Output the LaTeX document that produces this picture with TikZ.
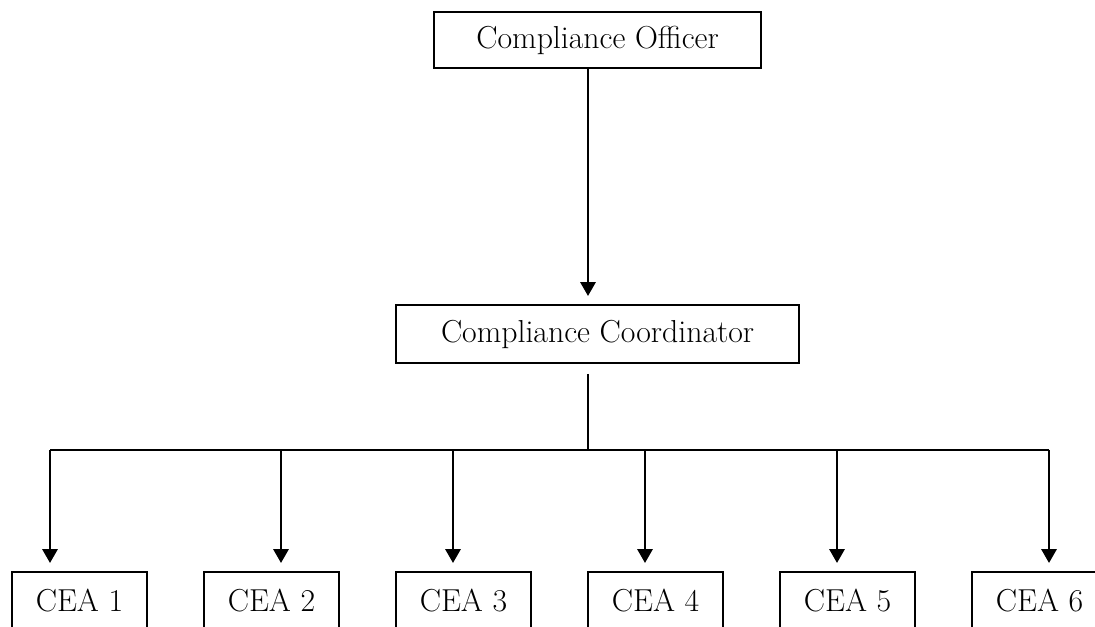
\documentclass[tikz,border=0pt]{standalone}
\usetikzlibrary{arrows.meta}

\tikzset{
  box/.style={draw, line width=1.4pt, minimum height=1.45cm, inner sep=0pt,
    font=\fontsize{22.6}{27}\selectfont},
  cea/.style={box, minimum width=3.375cm},
  link/.style={line width=1.9pt},
  arr/.style={link, -{Triangle[length=3.5mm,width=3.8mm]}}
}

\begin{document}
\begin{tikzpicture}

\useasboundingbox (0,0) rectangle (27.375,15.65);

\node[box, minimum width=8.175cm, minimum height=1.4cm] (officer) at (14.94,14.65) {Compliance Officer};
\node[box, minimum width=10.075cm] (coord) at (14.94,7.3) {Compliance Coordinator};

% CEA boxes, cut by the bottom edge
\foreach \i in {1,...,6}
  \node[cea] (cea\i) at ({1.9875+4.8*(\i-1)},0.625) {CEA \i};

\coordinate (hub) at (14.7,4.4);
\draw[arr] (officer.south -| hub) -- ([yshift=0.2cm]coord.north -| hub);
\draw[link] ([yshift=-0.25cm]coord.south -| hub) -- (hub);

\foreach \i/\x in {1/1.25,2/7.025,3/11.325,4/16.125,5/20.925,6/26.225}
  \coordinate (b\i) at (\x,4.4);
\draw[link] (b1) -- (b6);

\foreach \i in {1,...,6}
  \draw[arr] (b\i) -- ([yshift=0.2cm]cea\i.north -| b\i);

\end{tikzpicture}
\end{document}
